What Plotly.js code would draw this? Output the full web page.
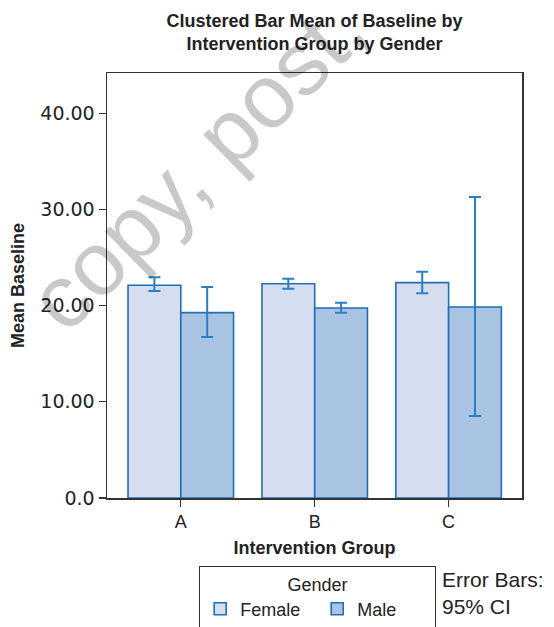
<!DOCTYPE html>
<html>
<head>
<meta charset="utf-8">
<script src="https://cdn.plot.ly/plotly-3.0.1.min.js"></script>
<style>html,body{margin:0;padding:0;background:#fff;}#chart{width:554px;height:627px;}</style>
</head>
<body>
<div id="chart"></div>
<script>
// ---- data ----
const groups = ['A', 'B', 'C'];
const femaleMean = [22.12, 22.28, 22.39];
const femaleUpper = [22.95, 22.80, 23.53];
const femaleLower = [21.52, 21.76, 21.28];
const maleMean = [19.27, 19.76, 19.86];
const maleUpper = [21.94, 20.31, 31.30];
const maleLower = [16.74, 19.27, 8.53];
const yTickVals = [0, 10, 20, 30, 40];
const yTickText = ['0.0', '10.00', '20.00', '30.00', '40.00'];

const lineBlue = '#1f6fb5';
const errBlue = '#2a7fc1';
const bold = '"Liberation Sans", Arial, sans-serif';
const sans = '"Liberation Sans", Arial, sans-serif';
const wide = '"DejaVu Sans", sans-serif';

function plus(m, u) { return u.map((v, i) => v - m[i]); }
function minus(m, l) { return l.map((v, i) => m[i] - v); }

const traces = [
  {
    type: 'bar', name: 'Female', x: groups, y: femaleMean,
    marker: { color: '#d5def0', line: { color: lineBlue, width: 1.6 } },
    error_y: { type: 'data', symmetric: false, array: plus(femaleMean, femaleUpper),
      arrayminus: minus(femaleMean, femaleLower), color: errBlue, thickness: 2, width: 6 }
  },
  {
    type: 'bar', name: 'Male', x: groups, y: maleMean,
    marker: { color: '#a9c3e3', line: { color: lineBlue, width: 1.6 } },
    error_y: { type: 'data', symmetric: false, array: plus(maleMean, maleUpper),
      arrayminus: minus(maleMean, maleLower), color: errBlue, thickness: 2, width: 6 }
  }
];

const layout = {
  width: 554, height: 627,
  margin: { l: 107, r: 32, t: 73, b: 129, autoexpand: false },
  paper_bgcolor: '#ffffff', plot_bgcolor: '#ffffff',
  barmode: 'group', bargap: 0.212, bargroupgap: 0,
  showlegend: true,
  title: {
    text: '<b>Clustered Bar Mean of Baseline by<br>Intervention Group by Gender</b>',
    font: { family: bold, size: 18, color: '#222' },
    xref: 'paper', x: 0.5, xanchor: 'center', yref: 'container', y: 0.957, yanchor: 'top'
  },
  xaxis: {
    range: [-0.551, 2.548], showline: true, mirror: true, linecolor: '#333', linewidth: 1.5,
    ticks: 'outside', ticklen: 7, tickcolor: '#333', tickwidth: 1.2,
    tickfont: { family: sans, size: 18, color: '#222' },
    title: { text: '<b>Intervention Group</b>', font: { family: bold, size: 18, color: '#222' }, standoff: 10 },
    showgrid: false, zeroline: false, fixedrange: true, automargin: false
  },
  yaxis: {
    range: [0, 44.19], showline: true, mirror: true, linecolor: '#333', linewidth: 1.5,
    ticks: 'outside', ticklen: 7, tickcolor: '#333', tickwidth: 1.2,
    tickvals: yTickVals, ticktext: yTickText.map(t => '\u00a0' + t),
    tickfont: { family: wide, size: 19, color: '#222' },
    title: { text: '<b>Mean Baseline</b>', font: { family: bold, size: 18, color: '#222' }, standoff: 5 },
    showgrid: false, zeroline: false, fixedrange: true, automargin: false
  },
  legend: {
    orientation: 'h', xref: 'container', yref: 'container', x: 199 / 554, y: (627 - 566) / 627,
    xanchor: 'left', yanchor: 'top',
    bordercolor: '#333', borderwidth: 1.2, bgcolor: '#fff',
    font: { family: sans, size: 18, color: '#222' },
    title: { text: 'Gender', side: 'top center', font: { family: sans, size: 18, color: '#222' } },
    entrywidth: 72, itemwidth: 30, traceorder: 'normal'
  },
  annotations: [
    {
      text: 'Error Bars:<br>95% CI', xref: 'paper', yref: 'paper',
      x: (440 - 107) / 415, y: (498 - 566) / 425, xanchor: 'left', yanchor: 'top', align: 'left',
      showarrow: false, font: { family: sans, size: 21, color: '#222' }
    },
    {
      text: 'copy, post,', xref: 'paper', yref: 'paper', x: 0.217, y: 0.785,
      xanchor: 'center', yanchor: 'middle', textangle: -44.5, showarrow: false,
      font: { family: sans, size: 90, color: 'rgba(0,0,0,0.21)' }
    }
  ]
};

Plotly.newPlot('chart', traces, layout, { displayModeBar: false, staticPlot: true });
</script>
</body>
</html>
